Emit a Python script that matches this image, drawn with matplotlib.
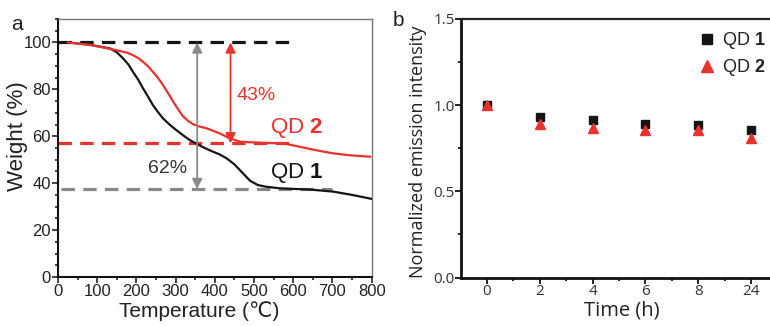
import numpy as np
import matplotlib
matplotlib.use("Agg")
import matplotlib.pyplot as plt
from matplotlib.ticker import MultipleLocator, FixedLocator

plt.rcParams['font.family'] = ['Liberation Sans', 'DejaVu Sans']
plt.rcParams['mathtext.fontset'] = 'custom'
plt.rcParams['mathtext.rm'] = 'Liberation Sans'
plt.rcParams['mathtext.bf'] = 'Liberation Sans:bold'

# ---- Panel a data (TGA) ----
temp_qd1 = [25, 81, 132, 150, 166, 180, 191, 205, 217, 230, 242, 255, 268, 285, 302,
            320, 336, 350, 362, 377, 390, 413, 430, 450, 470, 490, 510, 530, 566,
            642, 702, 750, 800]
weight_qd1 = [100, 99.0, 97.5, 95.8, 93.2, 90.5, 87.5, 84.0, 80.4, 76.8, 73.3, 70.3,
              67.6, 64.9, 62.6, 60.3, 58.4, 57.1, 56.0, 54.8, 53.8, 52.2, 50.6, 48.0,
              44.5, 41.0, 39.2, 38.5, 37.8, 37.3, 36.4, 35.0, 33.3]
temp_qd2 = [25, 81, 149, 175, 191, 205, 217, 230, 242, 255, 268, 281, 294, 307, 319,
            332, 345, 360, 379, 413, 438, 464, 520, 574, 617, 660, 702, 750, 796]
weight_qd2 = [100, 99.0, 96.7, 95.7, 94.6, 93.3, 91.7, 89.8, 87.5, 84.9, 81.8, 78.3,
              74.7, 71.3, 68.5, 66.5, 65.1, 64.2, 63.4, 61.2, 59.1, 57.7, 57.2, 57.0,
              55.5, 54.0, 52.7, 51.8, 51.3]
ref_levels = [100, 57, 37.5]
ref_xmin = [0, 0, 8]
ref_xmax = [590, 590, 700]
loss_qd1 = "62%"
loss_qd2 = "43%"

# ---- Panel b data ----
time_labels = ['0', '2', '4', '6', '8', '24']
intensity_qd1 = [1.0, 0.93, 0.915, 0.89, 0.884, 0.853]
intensity_qd2 = [1.0, 0.89, 0.87, 0.853, 0.857, 0.807]

RED = '#e8322b'
BLACK = '#151515'
GRAY = '#8c8784'

W, H = 770, 326
fig = plt.figure(figsize=(W / 100, H / 100), dpi=100)

ax1 = fig.add_axes([58 / W, 49 / H, (371.7 - 58) / W, (277 - 19) / H])
ax2 = fig.add_axes([461 / W, 48.5 / H, (770 - 461) / W, (277.5 - 19) / H])

# ---------- Panel a ----------
ax1.plot(temp_qd1, weight_qd1, color=BLACK, lw=1.6, zorder=3)
ax1.plot(temp_qd2, weight_qd2, color=RED, lw=1.6, zorder=3)
ref_colors = [BLACK, RED, GRAY]
for lvl, x0, x1, c in zip(ref_levels, ref_xmin, ref_xmax, ref_colors):
    ax1.plot([x0, x1], [lvl, lvl], color=c, lw=2.3, dashes=(4.2, 2.6), zorder=2)

ax1.annotate('', xy=(355, ref_levels[0]), xytext=(355, ref_levels[2]),
             arrowprops=dict(arrowstyle='<|-|>', color='#8a8a8a', lw=1.3,
                             mutation_scale=15, shrinkA=0, shrinkB=0), zorder=4)
ax1.annotate('', xy=(440, ref_levels[0]), xytext=(440, ref_levels[1]),
             arrowprops=dict(arrowstyle='<|-|>', color=RED, lw=1.3,
                             mutation_scale=15, shrinkA=0, shrinkB=0), zorder=4)

ax1.text(456, 77.5, loss_qd2, color=RED, fontsize=14, va='center', ha='left')
ax1.text(230, 46.3, loss_qd1, color='#333333', fontsize=14, va='center', ha='left')
ax1.text(540, 63.4, r'QD $\mathbf{2}$', color=RED, fontsize=16, va='center', ha='left')
ax1.text(540, 44.2, r'QD $\mathbf{1}$', color=BLACK, fontsize=16, va='center', ha='left')

ax1.set_xlim(0, 800)
ax1.set_ylim(0, 110)
ax1.xaxis.set_major_locator(MultipleLocator(100))
ax1.xaxis.set_minor_locator(MultipleLocator(50))
ax1.yaxis.set_major_locator(FixedLocator([0, 20, 40, 60, 80, 100]))
ax1.yaxis.set_minor_locator(MultipleLocator(5))
ax1.tick_params(which='both', direction='out', colors='#222222', labelsize=12, width=1.2, pad=1)
ax1.tick_params(which='major', length=4)
ax1.tick_params(which='minor', length=2.5)
for s in ['left', 'bottom']:
    ax1.spines[s].set_linewidth(1.5)
    ax1.spines[s].set_color('#111111')
for s in ['top', 'right']:
    ax1.spines[s].set_linewidth(1.0)
    ax1.spines[s].set_color('#777777')
ax1.set_xlabel('Temperature (℃)', fontsize=15, color='#222222')
ax1.xaxis.set_label_coords(0.449, -0.092)
ax1.set_ylabel('Weight (%)', fontsize=16, color='#222222')
ax1.yaxis.set_label_coords(-0.097, 0.545)

# ---------- Panel b ----------
x = np.arange(len(time_labels))
ax2.plot(x, intensity_qd1, 's', color=BLACK, ms=5.5, label=r'QD $\mathbf{1}$', zorder=3)
ax2.plot(x, intensity_qd2, '^', color=RED, ms=6.5, label=r'QD $\mathbf{2}$', zorder=4)
leg = ax2.legend(loc='upper left', bbox_to_anchor=(0.745, 0.985), frameon=False,
                 fontsize=13, markerscale=1.35, handlelength=1.0, handletextpad=0.3,
                 labelspacing=0.35, borderaxespad=0)
for t in leg.get_texts():
    t.set_color('#222222')

ax2.set_xlim(-0.49, 5.36)
ax2.set_ylim(0, 1.5)
ax2.set_xticks(x)
ax2.set_xticklabels(time_labels)
ax2.xaxis.set_minor_locator(FixedLocator(np.arange(-0.5, 5.0, 1.0)))
ax2.yaxis.set_major_locator(MultipleLocator(0.5))
ax2.yaxis.set_minor_locator(MultipleLocator(0.25))
ax2.tick_params(which='both', direction='out', colors='#222222', width=1.4, pad=0.5)
ax2.tick_params(which='major', length=4)
ax2.tick_params(which='minor', length=2.5)
for lab in ax2.get_xticklabels() + ax2.get_yticklabels():
    lab.set_fontfamily(['Open Sans', 'DejaVu Sans'])
    lab.set_fontsize(11)
    lab.set_color('#333333')
for s in ['left', 'bottom']:
    ax2.spines[s].set_linewidth(2.0)
    ax2.spines[s].set_color('#111111')
ax2.spines['top'].set_linewidth(1.6)
ax2.spines['top'].set_color('#222222')
ax2.spines['right'].set_visible(False)
ax2.set_xlabel('Time (h)', fontsize=14.5, family=['Open Sans', 'DejaVu Sans'], color='#222222')
ax2.xaxis.set_label_coords(0.521, -0.088)
ax2.set_ylabel('Normalized emission intensity', fontsize=13,
               family=['Open Sans', 'DejaVu Sans'], color='#222222')
ax2.yaxis.set_label_coords(-0.11, 0.485)

# panel letters
fig.text(17 / W, 1 - 24 / H, 'a', fontsize=15, ha='center', va='center', color='#222222')
fig.text(398 / W, 1 - 21 / H, 'b', fontsize=15, ha='center', va='center', color='#222222')

fig.savefig('out.png', dpi=100)
